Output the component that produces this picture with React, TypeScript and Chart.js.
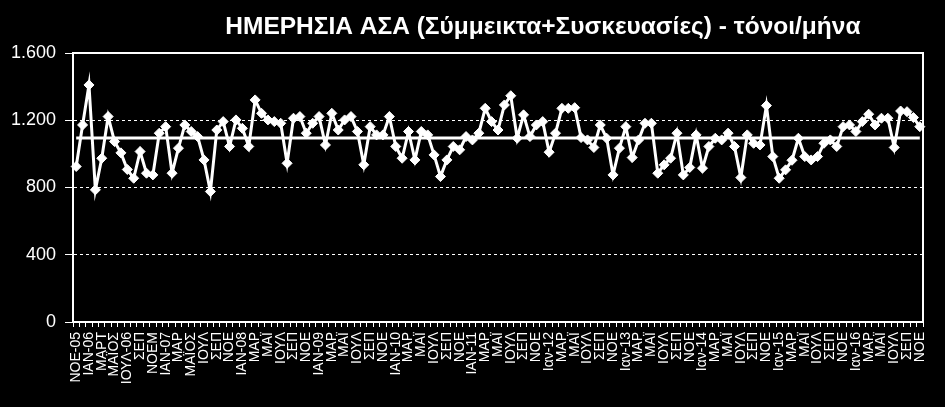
import React, { useEffect, useRef } from "react";
import { Chart, registerables } from "chart.js";

Chart.register(...registerables);

const TITLE = "ΗΜΕΡΗΣΙΑ ΑΣΑ (Σύμμεικτα+Συσκευασίες) - τόνοι/μήνα";

// One label every second month (Nov 2005 .. Nov 2016)
const TICK_LABELS = [
  "ΝΟΕ-05",
  "ΙΑΝ-06", "ΜΑΡΤ", "ΜΑΪΟΣ", "ΙΟΥΛ-06", "ΣΕΠ", "ΝΟΕΜ",
  "ΙΑΝ-07", "ΜΑΡ", "ΜΑΪΟΣ", "ΙΟΥΛ", "ΣΕΠ", "ΝΟΕ",
  "ΙΑΝ-08", "ΜΑΡ", "ΜΑΪ", "ΙΟΥΛ", "ΣΕΠ", "ΝΟΕ",
  "ΙΑΝ-09", "ΜΑΡ", "ΜΑΪ", "ΙΟΥΛ", "ΣΕΠ", "ΝΟΕ",
  "ΙΑΝ-10", "ΜΑΡ", "ΜΑΪ", "ΙΟΥΛ", "ΣΕΠ", "ΝΟΕ",
  "ΙΑΝ-11", "ΜΑΡ", "ΜΑΪ", "ΙΟΥΛ", "ΣΕΠ", "ΝΟΕ",
  "Ιαν-12", "ΜΑΡ", "ΜΑΪ", "ΙΟΥΛ", "ΣΕΠ", "ΝΟΕ",
  "Ιαν-13", "ΜΑΡ", "ΜΑΪ", "ΙΟΥΛ", "ΣΕΠ", "ΝΟΕ",
  "Ιαν-14", "ΜΑΡ", "ΜΑΪ", "ΙΟΥΛ", "ΣΕΠ", "ΝΟΕ",
  "Ιαν-15", "ΜΑΡ", "ΜΑΪ", "ΙΟΥΛ", "ΣΕΠ", "ΝΟΕ",
  "Ιαν-16", "ΜΑΡ", "ΜΑΪ", "ΙΟΥΛ", "ΣΕΠ", "ΝΟΕ",
];

// Monthly tonnes, Nov 2005 .. Nov 2016 (133 months)
const MONTHLY_TONNES = [
  925, 1172, 1410, 786, 974, 1222, 1073, 1006, 907, 855,
  1014, 885, 875, 1123, 1162, 885, 1034, 1172, 1133, 1103,
  964, 776, 1142, 1192, 1044, 1202, 1152, 1044, 1321, 1241,
  1202, 1192, 1182, 944, 1212, 1222, 1123, 1182, 1222, 1053,
  1241, 1142, 1202, 1222, 1133, 935, 1162, 1113, 1113, 1222,
  1044, 974, 1133, 964, 1133, 1113, 994, 865, 964, 1044,
  1024, 1103, 1083, 1123, 1271, 1192, 1142, 1291, 1346, 1093,
  1232, 1103, 1172, 1192, 1010, 1123, 1271, 1271, 1275, 1097,
  1083, 1038, 1172, 1093, 875, 1034, 1162, 978, 1083, 1182,
  1182, 885, 935, 974, 1123, 875, 919, 1113, 915, 1044,
  1093, 1083, 1123, 1044, 859, 1113, 1063, 1053, 1287, 984,
  855, 905, 962, 1093, 984, 964, 984, 1063, 1083, 1044,
  1162, 1172, 1133, 1192, 1236, 1172, 1212, 1212, 1038, 1255,
  1251, 1216, 1162,
];

const AVERAGE_TONNES = 1095;

const Y_MIN = 0;
const Y_MAX = 1600;
const Y_STEP = 400;

const CATEGORIES = MONTHLY_TONNES.map((_, i) =>
  i % 2 === 0 ? TICK_LABELS[i / 2] ?? "" : ""
);

const framePlugin = {
  id: "frameAndTitle",
  beforeDatasetsDraw(chart: any) {
    const { ctx, chartArea: a } = chart;
    ctx.save();
    ctx.strokeStyle = "#ffffff";
    ctx.lineWidth = 2;
    ctx.beginPath();
    ctx.moveTo(a.left, a.top);
    ctx.lineTo(a.right, a.top);
    ctx.lineTo(a.right, a.bottom);
    ctx.stroke();
    ctx.restore();
  },
  afterDraw(chart: any) {
    const { ctx } = chart;
    ctx.save();
    ctx.fillStyle = "#ffffff";
    ctx.font = "bold 24.5px 'Liberation Sans', Arial, sans-serif";
    ctx.textAlign = "center";
    ctx.textBaseline = "middle";
    ctx.fillText(TITLE, chart.width * 0.5745, 27);
    ctx.restore();
  },
};

export default function App() {
  const canvasRef = useRef<HTMLCanvasElement | null>(null);

  useEffect(() => {
    const canvas = canvasRef.current;
    if (!canvas) return;
    const chart = new Chart(canvas, {
      type: "line",
      data: {
        labels: CATEGORIES,
        datasets: [
          {
            label: "Μέσος όρος",
            data: CATEGORIES.map(() => AVERAGE_TONNES),
            borderColor: "#ffffff",
            borderWidth: 3,
            pointRadius: 0,
            fill: false,
          },
          {
            label: "ΑΣΑ",
            data: MONTHLY_TONNES,
            borderColor: "#ffffff",
            borderWidth: 3,
            pointStyle: "rectRot",
            pointRadius: 5,
            pointBackgroundColor: "#ffffff",
            pointBorderColor: "#ffffff",
            pointBorderWidth: 1,
            tension: 0,
            fill: false,
          },
        ],
      },
      options: {
        animation: false,
        responsive: false,
        maintainAspectRatio: false,
        layout: { padding: { top: 53, right: 22, left: 0, bottom: 0 } },
        plugins: {
          legend: { display: false },
          title: { display: false },
          tooltip: { enabled: false },
        },
        scales: {
          x: {
            type: "category",
            offset: true,
            afterFit: (s: any) => {
              s.height = 85;
            },
            grid: {
              display: true,
              drawOnChartArea: false,
              drawTicks: true,
              tickLength: 5,
              tickColor: "#ffffff",
              tickWidth: 1,
              offset: true,
            },
            border: { display: true, color: "#ffffff", width: 2 },
            ticks: {
              autoSkip: false,
              maxRotation: 90,
              minRotation: 90,
              padding: 5,
              color: "#ffffff",
              font: { family: "'Liberation Sans', Arial, sans-serif", size: 14 },
            },
          },
          y: {
            min: Y_MIN,
            max: Y_MAX,
            afterFit: (s: any) => {
              s.width = 73;
            },
            grid: {
              color: "#ffffff",
              lineWidth: 1,
              drawTicks: true,
              tickLength: 8,
              tickColor: "#ffffff",
              tickWidth: 1,
              tickBorderDash: [],
            },
            border: { display: true, color: "#ffffff", width: 2, dash: [3, 3] },
            ticks: {
              stepSize: Y_STEP,
              padding: 9,
              color: "#ffffff",
              font: { family: "'Liberation Sans', Arial, sans-serif", size: 18 },
              callback: (v: any) =>
                String(v).replace(/\B(?=(\d{3})+(?!\d))/g, "."),
            },
          },
        },
      },
      plugins: [framePlugin],
    });
    return () => chart.destroy();
  }, []);

  return (
    <div
      style={{
        position: "fixed",
        left: 0,
        top: 0,
        width: 945,
        height: 407,
        background: "#000000",
      }}
    >
      <canvas
        ref={canvasRef}
        width={945}
        height={407}
        style={{ display: "block", width: 945, height: 407 }}
      />
    </div>
  );
}
